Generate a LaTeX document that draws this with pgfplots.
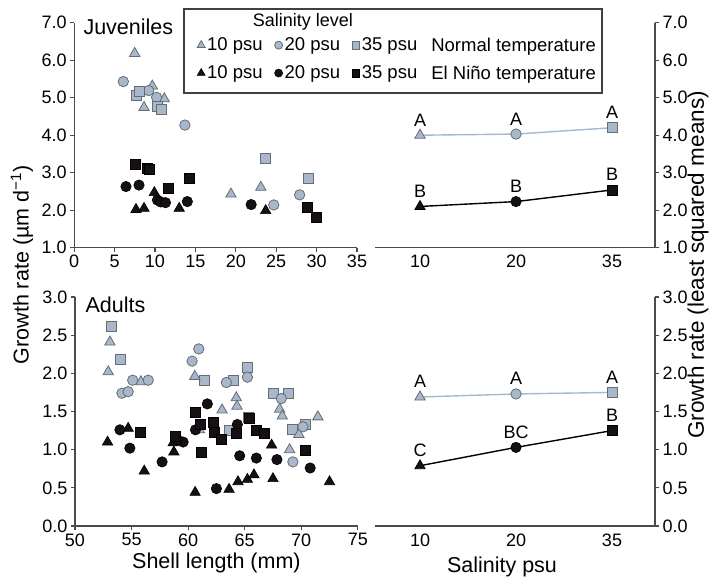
\documentclass[border=0pt]{standalone}
\usepackage{pgfplots}
\pgfplotsset{compat=1.18}
\usepackage{fontspec}
\setmainfont{Liberation Sans}
\definecolor{gfill}{RGB}{168,184,202}
\definecolor{gedge}{RGB}{100,108,118}
\definecolor{axgray}{RGB}{75,75,75}
\definecolor{nline}{RGB}{165,185,205}
\definecolor{bfill}{RGB}{22,16,22}
\pgfplotsset{
  gtri/.style={only marks, mark=triangle*, mark size=6pt, mark options={fill=gfill, draw=gedge, line width=0.8pt}},
  gcirc/.style={only marks, mark=*, mark size=5.2pt, mark options={fill=gfill, draw=gedge, line width=0.8pt}},
  gsq/.style={only marks, mark=square*, mark size=5pt, mark options={fill=gfill, draw=gedge, line width=0.8pt}},
  btri/.style={only marks, mark=triangle*, mark size=6pt, mark options={fill=bfill, draw=black, line width=0.6pt}},
  bcirc/.style={only marks, mark=*, mark size=5.2pt, mark options={fill=bfill, draw=black, line width=0.6pt}},
  bsq/.style={only marks, mark=square*, mark size=5pt, mark options={fill=bfill, draw=black, line width=0.6pt}},
  base/.style={scale only axis, clip=false,
    axis line style={-, axgray, line width=1.3pt},
    tick style={axgray, line width=1.1pt},
    tick align=outside, major tick length=4pt,
    tick label style={font=\fontsize{18}{20}\selectfont},
    /pgf/number format/assume math mode=true,
    yticklabel style={/pgf/number format/.cd, fixed, fixed zerofill, precision=1},
    label style={font=\fontsize{21.5}{24}\selectfont}},
  scat/.style={base, axis x line*=bottom, axis y line*=left, width=282.8pt,
    xticklabel style={/pgf/number format/.cd, fixed, precision=0}},
  means/.style={base, axis x line*=bottom, axis y line*=right, width=280pt,
    xmin=-0.469, xmax=2.448, xtick={0,1,2}, xticklabels={10,20,35},
    xtick style={draw=none},
    extra x ticks={0.5,1.5}, extra x tick labels={},
    extra x tick style={tick align=inside, major tick length=9pt, tick style={axgray, line width=1.1pt}},
    nodes near coords, point meta=explicit symbolic,
    every node near coord/.append style={font=\fontsize{18}{20}\selectfont, text=black, anchor=south, yshift=5pt}},
}
\begin{document}
\begin{tikzpicture}
% ---------------- Juveniles scatter ----------------
\begin{axis}[scat, at={(74.2pt,-247.7pt)}, anchor=south west, height=225pt,
  xmin=0, xmax=35, ymin=1, ymax=7, xtick={0,5,...,35}, ytick={1,2,...,7},
  legend columns=4,
  legend style={at={(axis description cs:0.424,0.952)}, anchor=north west, draw=none, fill=none,
    font=\fontsize{18.5}{20}\selectfont, row sep=9pt,
    /tikz/every even column/.append style={column sep=10pt},
    /tikz/column 6/.append style={column sep=5pt}},
  ]
\addplot[gtri, forget plot] coordinates {(7.49,6.18) (9.67,5.31) (8.64,4.74) (11.15,4.97) (19.4,2.43) (23.1,2.61)};
\addplot[gcirc, forget plot] coordinates {(6.08,5.43) (9.22,5.19) (10.2,5.01) (13.7,4.27) (24.7,2.14) (27.9,2.41)};
\addplot[gsq, forget plot] coordinates {(7.69,5.07) (8.06,5.16) (10.3,4.78) (10.8,4.69) (23.7,3.38) (29.0,2.85)};
\addplot[btri, forget plot] coordinates {(7.65,2.02) (8.64,2.05) (9.92,2.47) (13.0,2.05) (23.7,1.99)};
\addplot[bcirc, forget plot] coordinates {(6.41,2.63) (8.02,2.67) (10.3,2.27) (10.7,2.22) (11.3,2.2) (14.0,2.23) (21.9,2.15)};
\addplot[bsq, forget plot] coordinates {(7.61,3.23) (9.05,3.12) (9.3,3.1) (11.65,2.58) (14.3,2.85) (28.9,2.09) (30.0,1.81)};
\addlegendimage{gtri, mark size=4.5pt}\addlegendentry{10 psu}
\addlegendimage{gcirc, mark size=4pt}\addlegendentry{20 psu}
\addlegendimage{gsq, mark size=3.8pt}\addlegendentry{35 psu}
\addlegendimage{empty legend}\addlegendentry{Normal temperature}
\addlegendimage{btri, mark size=4.5pt}\addlegendentry{10 psu}
\addlegendimage{bcirc, mark size=4pt}\addlegendentry{20 psu}
\addlegendimage{bsq, mark size=3.8pt}\addlegendentry{35 psu}
\addlegendimage{empty legend}\addlegendentry{El Niño temperature}
\end{axis}
% ---------------- Juveniles means ----------------
\begin{axis}[means, at={(375pt,-247.7pt)}, anchor=south west, height=225pt,
  ymin=1, ymax=7, ytick={1,2,...,7}]
\addplot[nline, line width=1.4pt, no marks] coordinates {(0,4.0) [A] (1,4.03) [A] (2,4.2) [A]};
\addplot[black, line width=1.4pt, no marks] coordinates {(0,2.1) [B] (1,2.23) [B] (2,2.54) [B]};
\addplot[gtri, nodes near coords=] coordinates {(0,4.0)};
\addplot[gcirc, nodes near coords=] coordinates {(1,4.03)};
\addplot[gsq, nodes near coords=] coordinates {(2,4.2)};
\addplot[btri, nodes near coords=] coordinates {(0,2.1)};
\addplot[bcirc, nodes near coords=] coordinates {(1,2.23)};
\addplot[bsq, nodes near coords=] coordinates {(2,2.54)};
\end{axis}
% ---------------- Adults scatter ----------------
\begin{axis}[scat, at={(75pt,-526pt)}, anchor=south west, height=229pt,
  xmin=50, xmax=75, ymin=0, ymax=3, xtick={50,55,...,75}, ytick={0,0.5,...,3},
  xlabel={Shell length (mm)}]
\addplot[gsq] coordinates {(53.24,2.62) (54.0,2.18) (61.44,1.91) (63.97,1.91) (65.24,2.08) (65.35,1.42) (63.65,1.25) (67.5,1.74) (68.85,1.74) (69.26,1.26) (70.35,1.33)};
\addplot[gtri] coordinates {(53.09,2.41) (52.94,2.02) (55.82,1.89) (60.59,1.96) (63.0,1.52) (64.26,1.68) (64.32,1.57) (68.09,1.53) (68.32,1.44) (68.97,1.0) (69.79,1.2) (71.47,1.43) (61.0,1.26)};
\addplot[gcirc] coordinates {(54.15,1.74) (54.7,1.76) (55.1,1.91) (56.47,1.91) (60.35,2.16) (60.94,2.32) (63.38,1.88) (65.24,1.95) (68.24,1.67) (69.26,0.84) (70.15,1.3)};
\addplot[btri] coordinates {(52.88,1.1) (54.7,1.28) (56.12,0.72) (58.74,0.97) (58.68,1.09) (60.62,0.44) (63.62,0.48) (64.41,0.58) (65.24,0.61) (65.82,0.67) (67.5,0.62) (67.38,1.06) (72.5,0.58)};
\addplot[bcirc] coordinates {(53.97,1.26) (54.85,1.02) (57.7,0.84) (59.56,1.1) (59.06,1.13) (60.65,1.26) (61.7,1.6) (62.5,0.49) (64.35,1.33) (64.56,0.92) (66.03,0.89) (67.85,0.87) (70.79,0.76)};
\addplot[bsq] coordinates {(55.76,1.23) (58.85,1.17) (60.65,1.49) (61.09,1.33) (61.15,0.96) (62.2,1.36) (62.35,1.23) (62.94,1.13) (64.26,1.21) (65.38,1.41) (66.03,1.26) (66.76,1.21) (70.38,0.99)};
\end{axis}
% ---------------- Adults means ----------------
\begin{axis}[means, at={(375pt,-526pt)}, anchor=south west, height=229pt,
  ymin=0, ymax=3, ytick={0,0.5,...,3}, xlabel={Salinity psu},
  xlabel style={xshift=-13pt}]
\addplot[nline, line width=1.4pt, no marks] coordinates {(0,1.69) [A] (1,1.73) [A] (2,1.75) [A]};
\addplot[black, line width=1.4pt, no marks] coordinates {(0,0.79) [C] (1,1.03) [BC] (2,1.25) [B]};
\addplot[gtri, nodes near coords=] coordinates {(0,1.69)};
\addplot[gcirc, nodes near coords=] coordinates {(1,1.73)};
\addplot[gsq, nodes near coords=] coordinates {(2,1.75)};
\addplot[btri, nodes near coords=] coordinates {(0,0.79)};
\addplot[bcirc, nodes near coords=] coordinates {(1,1.03)};
\addplot[bsq, nodes near coords=] coordinates {(2,1.25)};
\end{axis}
% ---------------- texts and legend frame ----------------
\draw[black!75, line width=1.2pt] (184pt,-9pt) rectangle (602pt,-93pt);
\node[font=\fontsize{18}{20}\selectfont] at (303pt,-22pt) {Salinity level};
\node[font=\fontsize{21.5}{24}\selectfont, anchor=west] at (80pt,-27pt) {Juveniles};
\node[font=\fontsize{21.5}{24}\selectfont, anchor=west] at (82pt,-305pt) {Adults};
\node[rotate=90, font=\fontsize{21.5}{24}\selectfont] at (22pt,-265pt) {Growth rate (µm d\textsuperscript{\char"2212 1})};
\node[rotate=90, font=\fontsize{22.5}{24}\selectfont] at (698pt,-265pt) {Growth rate (least squared means)};
\pgfresetboundingbox
\path (0,0) rectangle (711pt,-576pt);
\end{tikzpicture}
\end{document}
